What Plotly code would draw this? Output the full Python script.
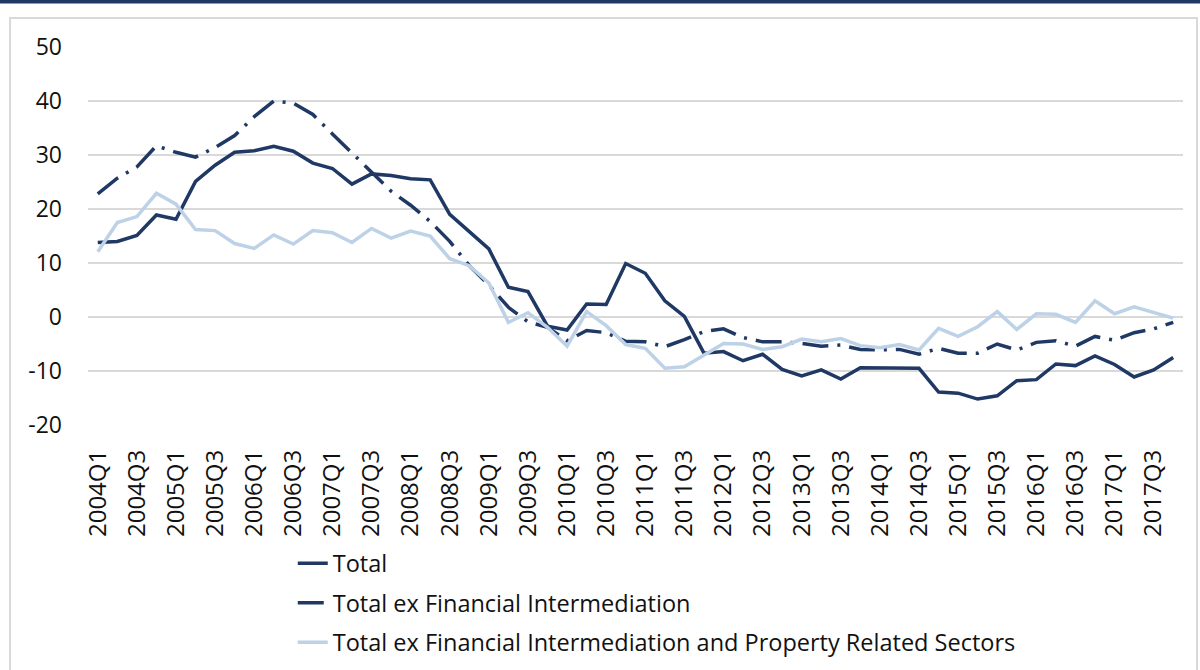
import plotly.graph_objects as go

# quarters 2004Q1 .. 2017Q4
quarters = [f"{y}Q{q}" for y in range(2004, 2018) for q in range(1, 5)]

total = [13.8, 14.0, 15.1, 18.9, 18.1, 25.1, 28.1, 30.5, 30.8, 31.6,
         30.7, 28.5, 27.5, 24.6, 26.5, 26.2, 25.6, 25.4, 19.0, 15.8,
         12.6, 5.5, 4.7, -1.7, -2.4, 2.4, 2.3, 9.9, 8.1, 3.0,
         0.1, -6.7, -6.4, -8.1, -6.9, -9.7, -10.9, -9.8, -11.5, -9.4,
         -9.4, -9.5, -9.5, -13.9, -14.1, -15.2, -14.6, -11.8, -11.6, -8.7,
         -9.0, -7.2, -8.8, -11.1, -9.8, -7.5]

ex_fin = [22.8, 25.7, 27.8, 31.7, 30.5, 29.6, 31.4, 33.6, 37.1, 40.0,
          39.6, 37.5, 33.9, 30.4, 26.8, 23.3, 20.7, 17.7, 14.0, 9.5,
          5.9, 1.8, -0.9, -1.9, -4.4, -2.5, -2.9, -4.5, -4.6, -5.5,
          -4.2, -2.7, -2.2, -3.8, -4.6, -4.6, -4.9, -5.4, -5.2, -6.0,
          -6.1, -6.0, -6.9, -5.8, -6.7, -6.7, -5.0, -6.1, -4.7, -4.4,
          -5.4, -3.6, -4.3, -2.9, -2.2, -1.0]

ex_fin_prop = [12.1, 17.5, 18.6, 22.9, 20.9, 16.2, 16.0, 13.6, 12.7, 15.2,
               13.5, 16.0, 15.6, 13.8, 16.4, 14.6, 15.9, 15.0, 10.8, 9.5,
               6.3, -1.0, 0.8, -1.9, -5.4, 1.0, -1.6, -5.1, -5.8, -9.5,
               -9.2, -7.0, -4.9, -5.0, -6.0, -5.5, -4.1, -4.6, -4.0, -5.3,
               -5.7, -5.1, -6.1, -2.1, -3.6, -1.8, 1.0, -2.3, 0.6, 0.5,
               -1.0, 3.0, 0.6, 1.9, 0.8, -0.2]

y_ticks = [-20, -10, 0, 10, 20, 30, 40, 50]
y_labels = ["-20", "-10", "0", "10", "20", "30", "40", "50"]

navy = "#1F3864"
light = "#BDD2E7"
font_name = "Open Sans"

fig = go.Figure()
fig.add_trace(go.Scatter(x=quarters, y=total, mode="lines", name="Total",
                         legendgroup="a",
                         line=dict(color=navy, width=3.5)))
fig.add_trace(go.Scatter(x=quarters, y=ex_fin, mode="lines",
                         name="Total ex Financial Intermediation",
                         legendgroup="b",
                         line=dict(color=navy, width=3.5, dash="26px,9px,3px,9px")))
fig.add_trace(go.Scatter(x=quarters, y=ex_fin_prop, mode="lines",
                         name="Total ex Financial Intermediation and Property Related Sectors",
                         legendgroup="c",
                         line=dict(color=light, width=3.5)))

fig.update_layout(
    width=1200, height=670,
    margin=dict(l=88, r=17, t=47, b=245, autoexpand=False),
    paper_bgcolor="white", plot_bgcolor="white",
    font=dict(family=font_name, size=22, color="#111111"),
    showlegend=True,
    legend=dict(x=0.187, y=-0.308, xanchor="left", yanchor="top",
                traceorder="grouped", tracegroupgap=6,
                font=dict(size=23.5), bgcolor="rgba(0,0,0,0)"),
    shapes=[
        # navy rule across the top
        dict(type="rect", xref="paper", yref="paper",
             x0=-0.09, x1=1.02, y0=1.115, y1=1.13,
             fillcolor=navy, line=dict(width=0), layer="above"),
        # light chart border
        dict(type="rect", xref="paper", yref="paper",
             x0=-0.0712, x1=1.0128, y0=1.0767, y1=-0.75,
             fillcolor="rgba(0,0,0,0)", line=dict(color="#D9D9D9", width=2)),
    ],
)

fig.update_xaxes(
    type="category", range=[-0.5, 55.5],
    tickmode="array", tickvals=quarters[::2], ticktext=quarters[::2],
    tickangle=-90, showgrid=False, zeroline=False, showline=False,
    ticks="", ticklabelstandoff=19, tickfont=dict(size=24),
)
fig.update_yaxes(
    range=[-20, 50], tickmode="array", tickvals=y_ticks, ticktext=y_labels,
    showgrid=True, gridcolor="#D9D9D9",
    gridwidth=2, zeroline=False, showline=False, ticks="",
    ticklabelstandoff=25, tickfont=dict(size=23),
)

# page body has a default 8px margin; drop it so the figure sits at 0,0
fig.write_html("out.html", config={"displayModeBar": False},
               post_script="document.body.style.margin='0';")
